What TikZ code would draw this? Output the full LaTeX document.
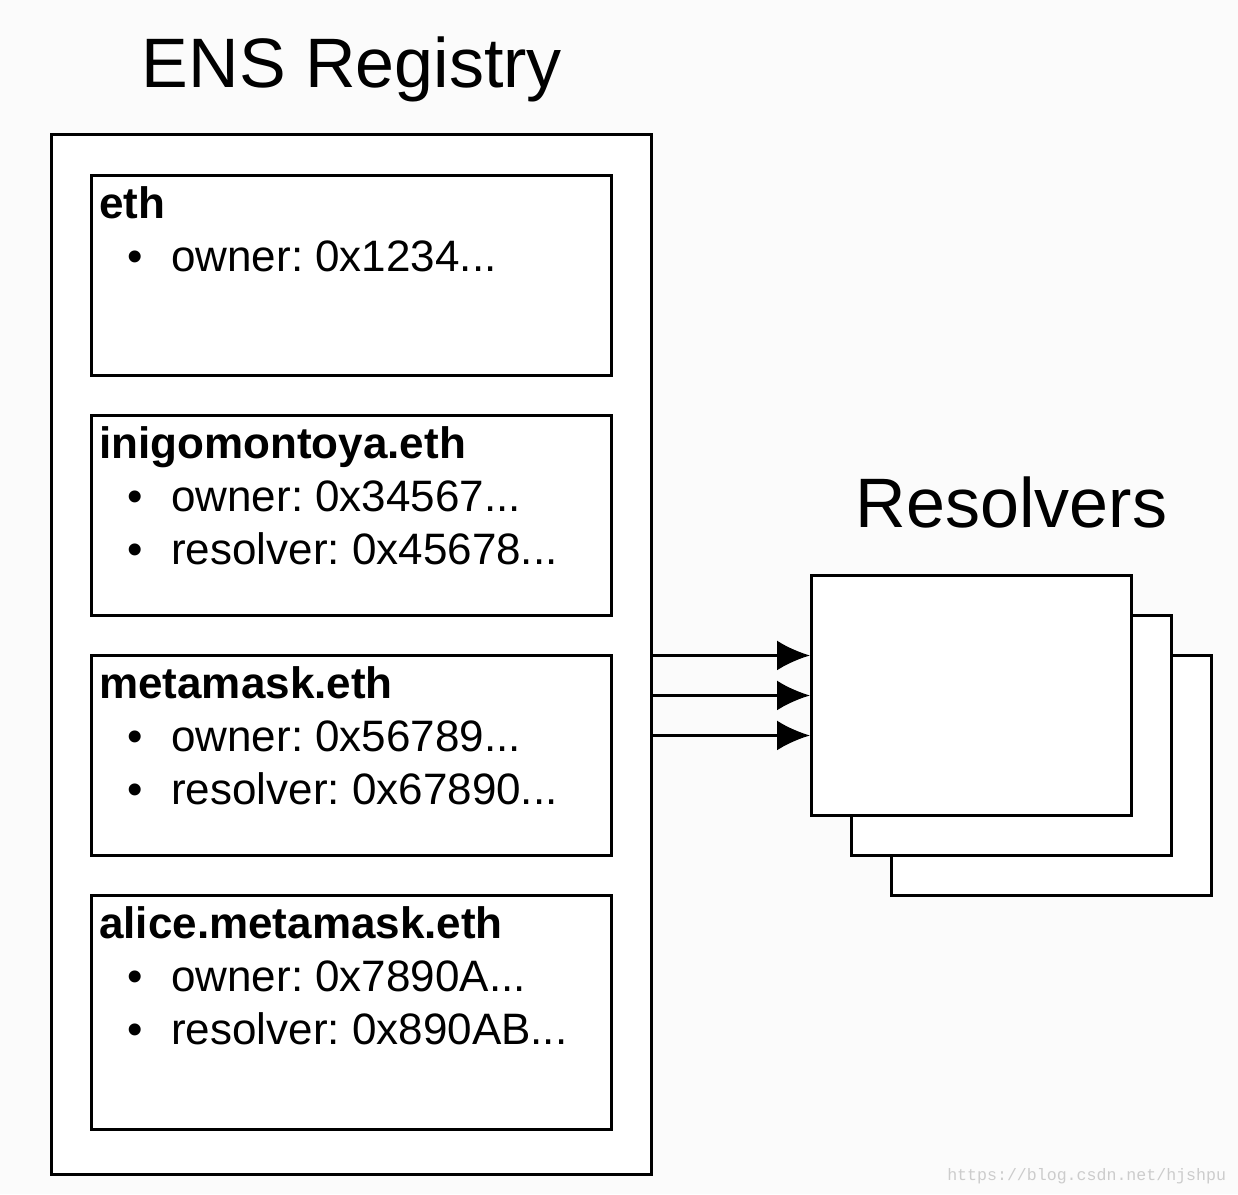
\documentclass[tikz,border=0pt]{standalone}
\usepackage{fontspec}
\setmainfont{Liberation Sans}
\setmonofont{Liberation Mono}
\usetikzlibrary{arrows.meta}
\newcommand\punkte{...}
\frenchspacing

\begin{document}
\begin{tikzpicture}[
    kasten/.style={draw, line width=2.1pt, fill=white, inner sep=0pt, anchor=north west},
    schrift/.style={inner sep=0pt, font=\fontsize{31.3}{37.6}\selectfont},
    fett/.style={inner sep=0pt, font=\fontsize{31.3}{37.6}\selectfont\bfseries},
    titel/.style={inner sep=0pt, anchor=base, font=\fontsize{49.8}{60}\selectfont},
    pfeil/.style={line width=2.1pt, -{Latex[length=8.25mm,width=7.5mm]}}
]
    \def\eintrag#1#2#3#4#5{
    \node[kasten, minimum width=13cm, minimum height=#3cm] (#1) at (2.25,#2) {};
    \node[fett, anchor=base west] (#1-l) at ([xshift=0.225cm,yshift=-1.125cm]#1.north west) {#4};
    \foreach \z [count=\i] in {#5} {
        \node[schrift, anchor=base] (#1-b\i) at ([xshift=1.125cm,yshift=-1.125cm-\i*1.325cm]#1.north west) {\textbullet};
        \node[schrift, anchor=base west] (#1-t\i) at ([xshift=2.025cm,yshift=-1.125cm-\i*1.325cm]#1.north west) {\z};
    }
    }

    \fill[black!1.5] (0,0) rectangle (30.95,29.85);
    \useasboundingbox (0,0) rectangle (30.95,29.85);

    \node[titel] (titel-reg) at (8.8,27.65) {ENS Registry};
    \node[titel] (titel-res) at (25.29,16.65) {Resolvers};

    \node[kasten, minimum width=15cm, minimum height=26cm] (reg) at (1.25,26.525) {};
    \eintrag{eth}{25.5}{5}{eth}{owner: 0x1234\punkte}
    \eintrag{inigo}{19.5}{5}{inigomontoya.eth}{owner: 0x34567\punkte, resolver: 0x45678\punkte}
    \eintrag{meta}{13.5}{5}{metamask.eth}{owner: 0x56789\punkte, resolver: 0x67890\punkte}
    \eintrag{alice}{7.5}{5.85}{alice.metamask.eth}{owner: 0x7890A\punkte, resolver: 0x890AB\punkte}

    \node[kasten, minimum width=8cm, minimum height=6cm] (res3) at (22.25,13.5) {};
    \node[kasten, minimum width=8cm, minimum height=6cm] (res2) at (21.25,14.5) {};
    \node[kasten, minimum width=8cm, minimum height=6cm] (res1) at (20.25,15.5) {};

    \foreach \d [count=\k] in {1,0,-1} {
        \coordinate (ziel\k) at ([yshift=\d cm]res1.west);
        \draw[pfeil] (reg.east |- ziel\k) -- (ziel\k);
    }

    \node[inner sep=0pt, anchor=base west, text=black!20, font=\fontsize{11.8}{14}\selectfont\ttfamily] (quelle) at (23.675,0.35) {https://blog.csdn.net/hjshpu};
\end{tikzpicture}
\end{document}
